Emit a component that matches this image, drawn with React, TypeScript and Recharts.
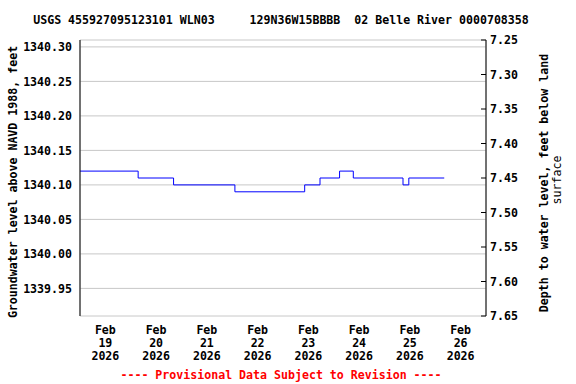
import { CartesianGrid, Line, LineChart, XAxis, YAxis } from "recharts";

const FONT = "'DejaVu Sans Mono', 'Liberation Mono', monospace";
const GRID = "#c8c8c8";
const SERIES = "#0000ff";

const TITLE = "USGS 455927095123101 WLN03     129N36W15BBBB  02 Belle River 0000708358";
const LEFT_TITLE = "Groundwater level above NAVD 1988, feet";
const RIGHT_TITLE = ["Depth to water level, feet below land", "surface"];
const FOOTNOTE = "---- Provisional Data Subject to Revision ----";

// readings (step changes), feet above NAVD 1988
const times = [
  "2026-02-19T00:00Z",
  "2026-02-20T03:30Z",
  "2026-02-20T20:15Z",
  "2026-02-22T01:15Z",
  "2026-02-23T10:15Z",
  "2026-02-23T17:30Z",
  "2026-02-24T02:45Z",
  "2026-02-24T09:15Z",
  "2026-02-25T08:45Z",
  "2026-02-25T11:30Z",
  "2026-02-26T04:15Z",
];
const levels = [1340.12, 1340.11, 1340.1, 1340.09, 1340.1, 1340.11, 1340.12, 1340.11, 1340.1, 1340.11, 1340.11];

const X_START = "2026-02-19T00:00Z";
const X_END = "2026-02-27T00:00Z";
const gridDays = ["2026-02-20", "2026-02-21", "2026-02-22", "2026-02-23", "2026-02-24", "2026-02-25", "2026-02-26"];
const labelDays = ["2026-02-19", "2026-02-20", "2026-02-21", "2026-02-22", "2026-02-23", "2026-02-24", "2026-02-25", "2026-02-26"];

const leftTicks = [1339.95, 1340.0, 1340.05, 1340.1, 1340.15, 1340.2, 1340.25, 1340.3];
const leftDomain = [1339.91, 1340.31];
const rightTicks = [7.25, 7.3, 7.35, 7.4, 7.45, 7.5, 7.55, 7.6, 7.65];
const rightDomain = [7.25, 7.65];

const MONTHS = ["Jan", "Feb", "Mar", "Apr", "May", "Jun", "Jul", "Aug", "Sep", "Oct", "Nov", "Dec"];

const data = times.map((t, i) => ({ t: Date.parse(t), level: levels[i] }));
const gridTicks = gridDays.map((d) => Date.parse(d + "T00:00Z"));
const labelTicks = labelDays.map((d) => Date.parse(d + "T12:00Z"));
const xDomain = [Date.parse(X_START), Date.parse(X_END)];

const TICK_STYLE = { fontFamily: FONT, fontSize: 11.6, fontWeight: 700, fill: "#000" };
const BORDER = { stroke: "#000", strokeWidth: 1 };

function DateTick({ x, y, payload }: any) {
  const d = new Date(payload.value);
  return (
    <text x={x} y={y} textAnchor="middle" {...TICK_STYLE}>
      <tspan x={x} dy={10}>{MONTHS[d.getUTCMonth()]}</tspan>
      <tspan x={x} dy={13}>{String(d.getUTCDate())}</tspan>
      <tspan x={x} dy={13}>{String(d.getUTCFullYear())}</tspan>
    </text>
  );
}

export default function App() {
  return (
    <div style={{ position: "absolute", left: 0, top: 0, width: 576, height: 384, background: "#fff" }}>
      <LineChart width={576} height={384} data={data} margin={{ top: 40, right: 50, bottom: 8, left: 8 }}>
        <CartesianGrid stroke={GRID} strokeWidth={1} />
        <XAxis
          dataKey="t"
          type="number"
          scale="time"
          domain={xDomain}
          ticks={gridTicks}
          tick={false}
          tickLine={false}
          height={0}
          axisLine={BORDER}
        />
        <XAxis
          xAxisId="top"
          orientation="top"
          dataKey="t"
          type="number"
          scale="time"
          domain={xDomain}
          ticks={gridTicks}
          tick={false}
          tickLine={false}
          height={0}
          axisLine={BORDER}
        />
        <XAxis
          xAxisId="lab"
          dataKey="t"
          type="number"
          scale="time"
          domain={xDomain}
          ticks={labelTicks}
          tick={<DateTick />}
          tickLine={false}
          axisLine={false}
          height={60}
          interval={0}
        />
        <YAxis
          type="number"
          domain={leftDomain}
          ticks={leftTicks}
          allowDataOverflow
          interval={0}
          width={72}
          tickLine={false}
          axisLine={BORDER}
          tick={TICK_STYLE}
          tickFormatter={(v: number) => v.toFixed(2)}
        />
        <YAxis
          yAxisId="depth"
          orientation="right"
          type="number"
          domain={rightDomain}
          ticks={rightTicks}
          reversed
          allowDataOverflow
          interval={0}
          width={40}
          axisLine={BORDER}
          tickSize={-5}
          tickMargin={9}
          tickLine={{ stroke: "#000" }}
          tick={TICK_STYLE}
          tickFormatter={(v: number) => v.toFixed(2)}
        />
        <Line
          type="stepAfter"
          dataKey="level"
          stroke={SERIES}
          strokeWidth={1}
          dot={false}
          activeDot={false}
          isAnimationActive={false}
        />
      </LineChart>
      <svg width={576} height={384} style={{ position: "absolute", left: 0, top: 0, pointerEvents: "none" }}>
        <text x={281} y={24} textAnchor="middle" {...TICK_STYLE} style={{ whiteSpace: "pre" }}>
          {TITLE}
        </text>
        <text x={0} y={0} transform="translate(17,182) rotate(-90)" textAnchor="middle" {...TICK_STYLE}>
          {LEFT_TITLE}
        </text>
        <text x={0} y={0} transform="translate(548,183) rotate(-90)" textAnchor="middle" {...TICK_STYLE}>
          {RIGHT_TITLE[0]}
        </text>
        <text x={0} y={0} transform="translate(561,180) rotate(-90)" textAnchor="middle" {...TICK_STYLE} fontWeight={400}>
          {RIGHT_TITLE[1]}
        </text>
        <text x={281} y={379} textAnchor="middle" {...TICK_STYLE} fill="#ff0000" style={{ whiteSpace: "pre" }}>
          {FOOTNOTE}
        </text>
      </svg>
    </div>
  );
}
